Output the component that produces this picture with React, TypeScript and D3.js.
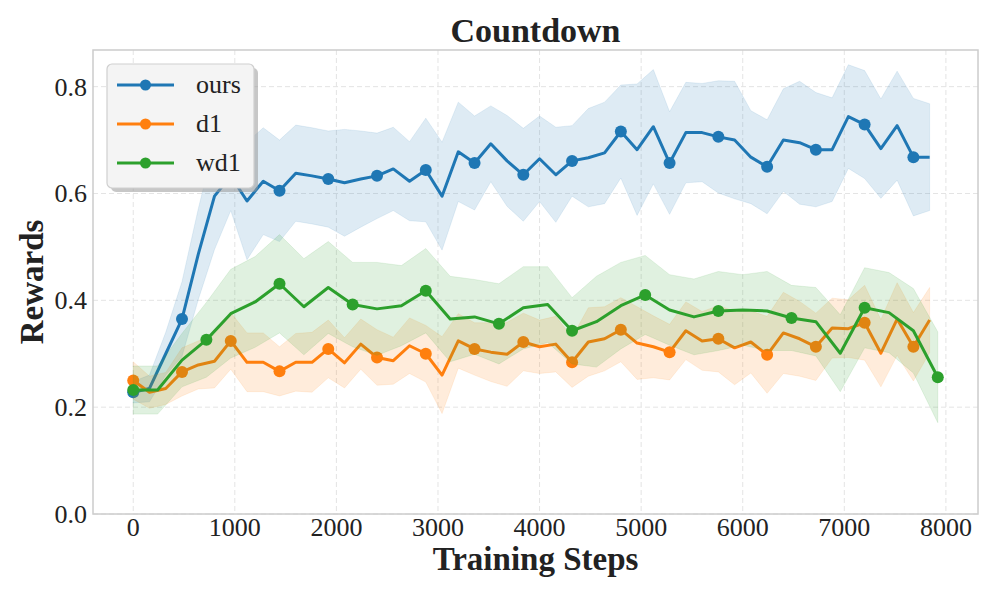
import * as d3 from 'd3'

// sampling interval of each run (steps)
const oursEvery = 160
const dOneEvery = 160
const wdOneEvery = 240

const oursMean = [0.228, 0.235, 0.30, 0.365, 0.486, 0.595, 0.633, 0.586, 0.623, 0.605,
  0.638, 0.633, 0.627, 0.62, 0.627, 0.633, 0.646, 0.623, 0.644, 0.595,
  0.678, 0.657, 0.693, 0.661, 0.635, 0.665, 0.635, 0.661, 0.667, 0.676,
  0.716, 0.682, 0.725, 0.657, 0.714, 0.714, 0.706, 0.70, 0.668, 0.65,
  0.70, 0.695, 0.682, 0.682, 0.744, 0.729, 0.684, 0.727, 0.668, 0.668]
const oursStd = [0.02, 0.025, 0.04, 0.07, 0.085, 0.1, 0.065, 0.11, 0.10, 0.095,
  0.09, 0.09, 0.09, 0.10, 0.09, 0.08, 0.078, 0.074, 0.097, 0.101,
  0.093, 0.088, 0.071, 0.085, 0.087, 0.08, 0.089, 0.066, 0.092, 0.095,
  0.087, 0.123, 0.107, 0.096, 0.094, 0.092, 0.105, 0.11, 0.087, 0.088,
  0.096, 0.115, 0.107, 0.097, 0.097, 0.101, 0.093, 0.102, 0.11, 0.1]

const dOneMean = [0.25, 0.228, 0.235, 0.266, 0.279, 0.286, 0.324, 0.284, 0.284, 0.267,
  0.284, 0.284, 0.309, 0.283, 0.318, 0.293, 0.287, 0.315, 0.30, 0.26,
  0.324, 0.309, 0.303, 0.299, 0.322, 0.313, 0.318, 0.284, 0.322, 0.328,
  0.345, 0.32, 0.313, 0.303, 0.343, 0.324, 0.328, 0.311, 0.322, 0.298,
  0.339, 0.328, 0.313, 0.348, 0.347, 0.358, 0.301, 0.365, 0.313, 0.363]
const dOneStd = [0.035, 0.03, 0.03, 0.045, 0.045, 0.05, 0.053, 0.055, 0.055, 0.046,
  0.054, 0.056, 0.054, 0.047, 0.047, 0.052, 0.044, 0.052, 0.053, 0.072,
  0.051, 0.049, 0.055, 0.06, 0.054, 0.05, 0.052, 0.047, 0.064, 0.06,
  0.06, 0.068, 0.058, 0.052, 0.054, 0.055, 0.062, 0.069, 0.058, 0.072,
  0.076, 0.07, 0.063, 0.056, 0.054, 0.07, 0.063, 0.068, 0.064, 0.061]

const wdOneMean = [0.232, 0.232, 0.288, 0.326, 0.375, 0.397, 0.431, 0.388, 0.424, 0.392,
  0.384, 0.39, 0.418, 0.365, 0.369, 0.356, 0.386, 0.392, 0.343, 0.36,
  0.39, 0.41, 0.382, 0.369, 0.38, 0.382, 0.38, 0.367, 0.36, 0.301,
  0.386, 0.377, 0.343, 0.256]
const wdOneStd = [0.045, 0.045, 0.05, 0.07, 0.083, 0.085, 0.092, 0.09, 0.086, 0.079,
  0.087, 0.075, 0.079, 0.08, 0.07, 0.075, 0.077, 0.071, 0.062, 0.085,
  0.081, 0.074, 0.066, 0.071, 0.074, 0.066, 0.074, 0.061, 0.064, 0.072,
  0.075, 0.075, 0.079, 0.085]

const xTicks = [0, 1000, 2000, 3000, 4000, 5000, 6000, 7000, 8000]
const yTicks = [0, 0.2, 0.4, 0.6, 0.8]

const W = 997
const H = 598
const plot = { left: 93, right: 978, top: 50, bottom: 514 }
const font = '"Liberation Serif", "Times New Roman", serif'

type Pt = { step: number; mean: number; std: number }

const series = [
  { name: 'ours', color: '#1f77b4', every: oursEvery, mean: oursMean, std: oursStd },
  { name: 'd1', color: '#ff7f0e', every: dOneEvery, mean: dOneMean, std: dOneStd },
  { name: 'wd1', color: '#2ca02c', every: wdOneEvery, mean: wdOneMean, std: wdOneStd },
].map(s => ({
  ...s,
  pts: s.mean.map((m, i) => ({ step: i * s.every, mean: m, std: s.std[i] })) as Pt[],
}))

export default function App() {
  const x = d3.scaleLinear().domain([-396, 8316]).range([plot.left, plot.right])
  const y = d3.scaleLinear().domain([0, 0.8686]).range([plot.bottom, plot.top])

  const line = d3.line<Pt>().x(d => x(d.step)).y(d => y(d.mean))
  const band = d3.area<Pt>()
    .x(d => x(d.step))
    .y0(d => y(d.mean - d.std))
    .y1(d => y(d.mean + d.std))

  const lg = { x: 107, y: 64, w: 147, h: 124 }
  const midX = (plot.left + plot.right) / 2
  const midY = (plot.top + plot.bottom) / 2

  return (
    <svg width={W} height={H} style={{ position: 'absolute', left: 0, top: 0, background: '#fff' }}>
      <rect x={0} y={0} width={W} height={H} fill="#fff" />
      <defs>
        <clipPath id="plotclip">
          <rect x={plot.left} y={plot.top} width={plot.right - plot.left} height={plot.bottom - plot.top} />
        </clipPath>
      </defs>

      {/* grid */}
      <g stroke="#e4e4e4" strokeWidth={1} strokeDasharray="5,3">
        {xTicks.map(t => (
          <line key={'gx' + t} x1={x(t)} x2={x(t)} y1={plot.top} y2={plot.bottom} />
        ))}
        {yTicks.map(t => (
          <line key={'gy' + t} x1={plot.left} x2={plot.right} y1={y(t)} y2={y(t)} />
        ))}
      </g>

      <g clipPath="url(#plotclip)">
        {series.map(s => (
          <g key={s.name}>
            <path d={band(s.pts) ?? ''} fill={s.color} fillOpacity={0.15} stroke={s.color} strokeOpacity={0.1} strokeWidth={1} />
            <path d={line(s.pts) ?? ''} fill="none" stroke={s.color} strokeWidth={3} strokeLinejoin="round" />
            {s.pts.filter((_, i) => i % 3 === 0).map(p => (
              <circle key={p.step} cx={x(p.step)} cy={y(p.mean)} r={6} fill={s.color} />
            ))}
          </g>
        ))}
      </g>

      {/* frame */}
      <rect x={plot.left} y={plot.top} width={plot.right - plot.left} height={plot.bottom - plot.top}
        fill="none" stroke="#cccccc" strokeWidth={1.5} />

      {/* tick labels */}
      <g fontFamily={font} fontSize={26} fill="#222">
        {xTicks.map(t => (
          <text key={'tx' + t} x={x(t)} y={536} textAnchor="middle">{t}</text>
        ))}
        {yTicks.map(t => (
          <text key={'ty' + t} x={87} y={y(t) + 9} textAnchor="end">{t.toFixed(1)}</text>
        ))}
      </g>

      {/* titles */}
      <text x={midX} y={42} textAnchor="middle" fontFamily={font}
        fontWeight="bold" fontSize={34} fill="#222">Countdown</text>
      <text x={midX} y={570} textAnchor="middle" fontFamily={font}
        fontWeight="bold" fontSize={33} fill="#222">Training Steps</text>
      <text transform={`translate(43,${midY}) rotate(-90)`} textAnchor="middle"
        fontFamily={font} fontWeight="bold" fontSize={33} fill="#222">Rewards</text>

      {/* legend */}
      <rect x={lg.x + 4} y={lg.y + 4} width={lg.w} height={lg.h} rx={5} fill="#999" fillOpacity={0.55} />
      <rect x={lg.x} y={lg.y} width={lg.w} height={lg.h} rx={5} fill="#f4f4f4" stroke="#cfcfcf" strokeWidth={1.2} />
      {series.map((s, i) => {
        const cy = 85 + i * 39
        return (
          <g key={'lg' + s.name}>
            <line x1={117} x2={174} y1={cy} y2={cy} stroke={s.color} strokeWidth={3} />
            <circle cx={145.5} cy={cy} r={5.5} fill={s.color} />
            <text x={196} y={cy + 8} fontFamily={font} fontSize={26} fill="#222">{s.name}</text>
          </g>
        )
      })}
    </svg>
  )
}
